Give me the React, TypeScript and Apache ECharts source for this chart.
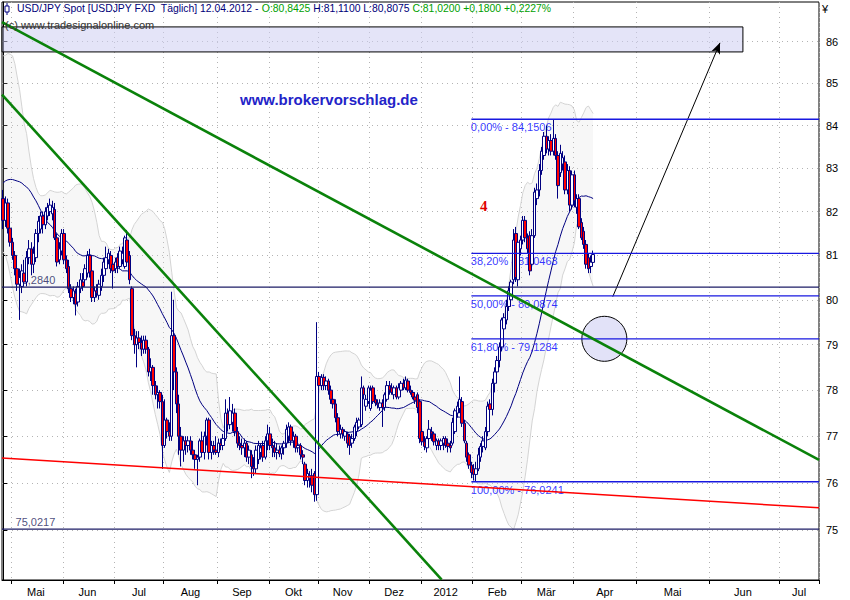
import { useEffect, useRef } from "react";
import * as echarts from "echarts";

const FONT = "'Liberation Sans', Arial, sans-serif";

// Daily candles, each row: [open, high, low, close]
const apr2011 = [
  [82.30, 82.50, 81.60, 81.80], [81.80, 82.35, 81.65, 82.20], [82.20, 82.30, 81.50, 81.62], [81.62, 81.70, 81.20, 81.30],
];
const may2011 = [
  [81.30, 81.40, 80.90, 81.00], [81.00, 81.10, 80.55, 80.70], [80.70, 80.80, 80.20, 80.35], [80.35, 80.70, 79.55, 80.50],
  [80.30, 80.80, 80.15, 80.65], [80.60, 80.90, 80.30, 80.40], [80.40, 81.10, 80.30, 80.95], [80.95, 81.35, 80.80, 81.15],
  [81.15, 81.30, 80.55, 80.80], [80.80, 81.20, 80.60, 81.05], [80.95, 81.60, 80.85, 81.50], [81.50, 81.90, 81.30, 81.78],
  [81.60, 82.00, 81.50, 81.90], [81.90, 82.00, 81.50, 81.70], [81.70, 82.10, 81.60, 82.00], [81.90, 82.20, 81.80, 82.10],
  [82.00, 82.30, 81.90, 82.15], [81.95, 82.25, 81.80, 82.10], [82.05, 82.20, 81.35, 81.40], [81.40, 81.50, 80.75, 80.85],
  [80.90, 81.30, 80.80, 81.15], [81.10, 81.60, 81.00, 81.50],
];
const jun2011 = [
  [81.50, 81.60, 80.80, 80.90], [80.90, 81.00, 80.60, 80.70], [80.75, 80.90, 80.15, 80.25], [80.25, 80.35, 79.95, 80.05],
  [80.05, 80.30, 79.90, 80.20], [80.15, 80.25, 79.65, 79.90], [79.95, 80.40, 79.85, 80.30], [80.25, 80.60, 80.15, 80.45],
  [80.40, 80.60, 80.20, 80.30], [80.45, 80.80, 80.35, 80.70], [80.60, 81.10, 80.50, 81.00], [81.00, 81.15, 80.50, 80.62],
  [80.65, 80.75, 79.95, 80.05], [80.05, 80.30, 79.95, 80.20], [80.20, 80.35, 80.05, 80.15], [80.10, 80.45, 80.00, 80.35],
  [80.30, 80.70, 80.20, 80.55], [80.55, 80.95, 80.40, 80.85], [80.70, 81.20, 80.60, 80.95], [80.90, 81.15, 80.80, 81.05],
  [81.00, 81.10, 80.60, 80.70], [80.80, 80.95, 80.25, 80.65],
];
const jul2011 = [
  [80.70, 80.95, 80.60, 80.85], [80.95, 81.05, 80.60, 80.75], [80.75, 81.20, 80.70, 81.10], [80.90, 81.20, 80.80, 81.05],
  [80.75, 81.45, 80.70, 81.40], [81.35, 81.58, 80.80, 80.85], [81.00, 81.10, 80.35, 80.45], [80.25, 80.30, 79.10, 79.20],
  [79.20, 79.35, 78.80, 79.00], [79.00, 79.30, 78.50, 79.15], [79.15, 79.30, 78.90, 79.05], [79.05, 79.20, 78.75, 78.90],
  [78.90, 79.20, 78.80, 79.10], [79.10, 79.20, 78.80, 78.90], [78.90, 78.95, 78.30, 78.40], [78.40, 78.70, 78.20, 78.50],
  [78.50, 78.55, 77.90, 78.10], [78.10, 78.20, 77.80, 77.90], [77.90, 78.10, 77.60, 77.95], [77.95, 78.00, 77.60, 77.75],
  [77.75, 77.90, 76.30, 76.80],
];
const aug2011 = [
  [76.80, 77.80, 76.75, 77.35], [77.35, 77.40, 76.95, 77.10], [77.10, 77.30, 76.90, 77.00], [77.00, 80.18, 76.90, 79.20],
  [79.20, 80.00, 78.00, 78.40], [78.40, 78.50, 77.50, 77.70], [77.70, 77.90, 76.60, 77.00], [77.00, 77.20, 76.35, 76.70],
  [76.70, 77.00, 76.45, 76.90], [76.90, 77.00, 76.60, 76.80], [76.80, 77.00, 76.65, 76.90], [76.90, 77.00, 76.60, 76.70],
  [76.70, 76.90, 76.50, 76.60], [76.60, 76.70, 76.30, 76.50], [76.50, 76.60, 75.95, 76.55], [76.55, 76.95, 76.45, 76.90],
  [76.90, 77.10, 76.60, 76.65], [76.65, 77.10, 76.50, 77.00], [77.00, 77.40, 76.80, 77.35], [77.35, 77.40, 76.50, 76.65],
  [76.65, 76.90, 76.50, 76.80], [76.80, 76.90, 76.60, 76.70], [76.70, 77.00, 76.60, 76.65],
];
const sep2011 = [
  [76.65, 76.95, 76.55, 76.85], [76.85, 76.95, 76.70, 76.80], [76.80, 77.05, 76.70, 76.95], [76.95, 77.80, 76.90, 77.50],
  [77.50, 77.60, 77.10, 77.25], [77.25, 77.85, 77.15, 77.55], [77.30, 77.70, 77.10, 77.50], [77.50, 77.60, 77.00, 77.10],
  [77.10, 77.20, 76.75, 76.85], [76.85, 77.00, 76.70, 76.80], [76.80, 76.95, 76.60, 76.75], [76.75, 76.95, 76.55, 76.85],
  [76.85, 76.90, 76.45, 76.55], [76.55, 76.80, 76.40, 76.70], [76.60, 76.70, 76.10, 76.35], [76.35, 76.55, 76.15, 76.30],
  [76.30, 76.80, 76.20, 76.70], [76.50, 76.90, 76.40, 76.80], [76.65, 76.85, 76.50, 76.75], [76.80, 76.90, 76.45, 76.55],
  [76.55, 77.00, 76.50, 76.90], [76.90, 77.25, 76.70, 77.05],
];
const oct2011 = [
  [77.05, 77.20, 76.70, 76.80], [76.80, 76.95, 76.55, 76.75], [76.75, 76.90, 76.55, 76.65], [76.65, 76.85, 76.50, 76.70],
  [76.70, 76.80, 76.55, 76.62], [76.62, 76.80, 76.50, 76.75], [76.75, 76.90, 76.60, 76.85], [76.85, 77.25, 76.75, 77.15],
  [77.00, 77.30, 76.85, 77.20], [77.20, 77.25, 76.80, 76.90], [76.90, 77.10, 76.75, 77.00], [77.00, 77.05, 76.65, 76.75],
  [76.75, 76.90, 76.65, 76.80], [76.80, 76.85, 76.50, 76.60], [76.60, 76.70, 76.40, 76.55], [76.40, 76.45, 75.95, 76.05],
  [76.05, 76.30, 75.90, 76.20], [76.10, 76.25, 75.90, 76.15], [76.15, 76.30, 75.80, 75.95], [76.20, 76.25, 75.60, 75.75],
  [75.75, 79.50, 75.62, 78.30],
];
const nov2011 = [
  [78.30, 78.40, 77.95, 78.10], [78.10, 78.35, 78.00, 78.28], [78.28, 78.35, 78.00, 78.10], [78.10, 78.30, 78.00, 78.20],
  [78.20, 78.25, 77.90, 78.00], [78.00, 78.10, 77.70, 77.80], [77.80, 77.90, 77.60, 77.70], [77.70, 77.80, 77.30, 77.40],
  [77.40, 77.50, 77.00, 77.10], [77.05, 77.25, 76.95, 77.15], [77.15, 77.20, 76.95, 77.05], [77.00, 77.15, 76.90, 77.10],
  [77.05, 77.10, 76.75, 76.85], [77.00, 77.05, 76.60, 76.80], [76.85, 77.05, 76.75, 76.95], [76.95, 77.25, 76.90, 77.20],
  [77.10, 77.40, 77.00, 77.30], [77.20, 77.40, 77.15, 77.35], [77.25, 78.30, 77.20, 78.05], [78.05, 78.10, 77.80, 77.90],
  [77.65, 77.90, 77.55, 77.80], [77.75, 78.10, 77.70, 78.05],
];
const dec2011 = [
  [77.60, 78.10, 77.55, 78.00], [78.05, 78.10, 77.70, 77.75], [77.80, 77.90, 77.65, 77.72], [77.72, 77.80, 77.60, 77.68],
  [77.62, 77.80, 77.55, 77.72], [77.72, 77.80, 77.20, 77.62], [77.62, 77.95, 77.55, 77.90], [77.80, 78.20, 77.75, 78.10],
  [78.10, 78.20, 77.90, 78.00], [78.05, 78.15, 77.90, 77.95], [77.90, 78.10, 77.80, 78.05], [78.05, 78.10, 77.80, 77.85],
  [77.85, 78.15, 77.80, 78.05], [78.00, 78.20, 77.95, 78.15], [78.15, 78.25, 78.00, 78.05], [78.05, 78.30, 78.00, 78.22],
  [78.20, 78.25, 77.95, 78.00], [78.00, 78.10, 77.90, 77.95], [77.95, 78.00, 77.80, 77.85], [77.85, 77.95, 77.70, 77.78],
  [77.90, 77.95, 77.50, 77.62], [77.75, 77.80, 76.85, 76.95],
];
const jan2012 = [
  [77.10, 77.20, 76.80, 76.88], [76.88, 77.00, 76.70, 76.78], [76.75, 77.00, 76.65, 76.95], [76.95, 77.35, 76.90, 77.15],
  [77.10, 77.20, 76.90, 77.05], [77.05, 77.10, 76.80, 76.88], [76.80, 76.95, 76.70, 76.90], [76.90, 76.95, 76.70, 76.80],
  [76.80, 76.95, 76.70, 76.90], [76.85, 77.00, 76.70, 76.95], [76.95, 77.00, 76.75, 76.80], [76.85, 76.95, 76.65, 76.78],
  [76.80, 76.90, 76.65, 76.75], [76.85, 77.40, 76.80, 77.30], [77.10, 77.60, 77.05, 77.55], [77.50, 77.75, 77.40, 77.65],
  [77.60, 78.30, 77.50, 77.80], [77.75, 77.85, 77.20, 77.28], [77.28, 77.35, 76.85, 76.90], [76.85, 76.90, 76.45, 76.55],
  [76.60, 76.65, 76.30, 76.38], [76.38, 76.45, 76.10, 76.22],
];
const feb2012 = [
  [76.30, 76.40, 76.05, 76.18], [76.18, 76.45, 76.02, 76.30], [76.30, 76.75, 76.25, 76.60], [76.55, 76.85, 76.45, 76.78],
  [76.78, 77.00, 76.65, 76.90], [76.75, 77.20, 76.70, 77.10], [77.10, 77.75, 77.00, 77.65], [77.70, 77.80, 77.45, 77.58],
  [77.58, 78.25, 77.45, 78.15], [78.15, 78.50, 77.95, 78.40], [78.40, 78.75, 78.30, 78.65], [78.65, 79.05, 78.50, 78.95],
  [78.95, 79.60, 78.85, 79.55], [79.35, 79.70, 79.20, 79.60], [79.55, 80.00, 79.45, 79.85], [79.85, 80.30, 79.75, 80.20],
  [80.00, 80.45, 79.85, 80.40], [80.45, 81.60, 80.35, 81.35], [81.50, 81.65, 80.40, 80.50], [80.45, 81.40, 80.30, 81.30],
  [81.15, 81.45, 81.00, 81.35],
];
const mar2012 = [
  [81.35, 81.90, 81.25, 81.80], [81.80, 81.90, 81.30, 81.40], [81.40, 81.50, 81.05, 81.15], [81.45, 81.55, 80.55, 80.65],
  [80.80, 81.60, 80.70, 81.45], [81.45, 82.55, 81.40, 82.45], [82.30, 82.65, 82.15, 82.50], [82.50, 83.10, 82.35, 82.95],
  [82.95, 83.50, 82.85, 83.40], [83.30, 83.85, 83.20, 83.75], [83.75, 84.00, 83.35, 83.45], [83.45, 83.75, 83.30, 83.65],
  [83.65, 83.80, 83.30, 83.40], [83.40, 84.15, 83.30, 83.70], [83.70, 83.80, 83.20, 83.30], [83.30, 83.40, 82.30, 82.60],
  [82.90, 83.55, 82.80, 83.35], [83.10, 83.40, 82.95, 83.25], [83.15, 83.30, 82.40, 82.50], [82.50, 83.10, 82.40, 82.95],
  [82.95, 83.05, 82.00, 82.15], [82.15, 82.95, 82.05, 82.85],
];
const apr2012 = [
  [82.85, 82.95, 82.10, 82.25], [82.10, 82.40, 81.95, 82.30], [82.30, 82.40, 81.60, 81.65], [81.75, 81.85, 81.35, 81.40],
  [81.55, 81.65, 81.15, 81.25], [81.25, 81.35, 80.70, 80.80], [80.95, 81.05, 80.60, 80.70], [80.75, 81.00, 80.60, 80.85],
  [80.8425, 81.11, 80.8075, 81.02],
];
// closes of the 29 sessions before the first candle (feed the moving average and the bands)
const warmupCloses = [80.7, 80.9, 81.0, 81.1, 81.2, 80.9, 81.0, 81.6, 81.9, 82.1, 82.9, 83.1, 84.0, 84.1, 84.9,
  85.3, 84.8, 84.9, 84.6, 83.5, 84.0, 83.6, 83.1, 82.7, 82.5, 82.2, 81.7, 81.9, 81.8];

const yTicks = [75, 76, 77, 78, 79, 80, 81, 82, 83, 84, 85, 86];
const monthNames = ["Jan", "Feb", "Mär", "Apr", "Mai", "Jun", "Jul", "Aug", "Sep", "Okt", "Nov", "Dez"];
const fibLevels = [84.1506, 81.0463, 80.0874, 79.1284, 76.0241];
const fibLabels = ["0,00% - 84,1506", "38,20% - 81,0463", "50,00% - 80,0874", "61,80% - 79,1284", "100,00% - 76,0241"];
const fibStart = 200;
const levelValues = [80.284, 75.0217];
const levelLabels = ["80,2840", "75,0217"];
const trendUpper = [[-0.5, 86.47], [348.5, 76.49]];
const trendSteep = [[-0.5, 84.73], [187.3, 73.97]];
const trendRed = [[-0.5, 76.53], [348.5, 75.47]];
const arrowLine = [[260.4, 80.07], [306.2, 85.97]];
const circlePoint = [256.8, 79.13];
const targetZone = [[-0.5, 86.355], [316, 85.752]];
const FUTURE_DAYS = 96;
const MA_PERIOD = 30;
const BB_PERIOD = 20;

const candles = [...apr2011, ...may2011, ...jun2011, ...jul2011, ...aug2011, ...sep2011, ...oct2011,
  ...nov2011, ...dec2011, ...jan2012, ...feb2012, ...mar2012, ...apr2012];

function iso(t: number) { return new Date(t).toISOString().slice(0, 10); }
const histDates: string[] = [];
for (let t = Date.UTC(2011, 3, 26); t <= Date.UTC(2012, 3, 12); t += 86400000) {
  const wd = new Date(t).getUTCDay();
  if (wd !== 0 && wd !== 6) histDates.push(iso(t));
}
const futureDates: string[] = [];
for (let i = 1; i <= FUTURE_DAYS; i++) futureDates.push(iso(Date.UTC(2012, 3, 12 + i)));
const categories = histDates.concat(futureDates);
const N = categories.length;

const monthStart = new Set<number>();
const monthLabelAt = new Map<number, string>();
{
  let g = 0;
  for (let i = 1; i <= N; i++) {
    if (i === N || categories[i].slice(0, 7) !== categories[g].slice(0, 7)) {
      if (g > 0) monthStart.add(g);
      if (i - g >= 8) {
        const m = +categories[g].slice(5, 7);
        monthLabelAt.set(Math.floor((g + i - 1) / 2), m === 1 ? categories[g].slice(0, 4) : monthNames[m - 1]);
      }
      g = i;
    }
  }
}

const closes = candles.map((c) => c[3]);
const allCloses = warmupCloses.concat(closes);
const W = warmupCloses.length;
const ma: (number | null)[] = [];
const bbLow: (number | null)[] = [];
const bbWidth: (number | null)[] = [];
for (let k = 0; k < closes.length; k++) {
  const e = W + k;
  const mw = allCloses.slice(e - MA_PERIOD + 1, e + 1);
  ma.push(+(mw.reduce((a, b) => a + b, 0) / mw.length).toFixed(4));
  const bw = allCloses.slice(e - BB_PERIOD + 1, e + 1);
  const mean = bw.reduce((a, b) => a + b, 0) / bw.length;
  const sd = Math.sqrt(bw.reduce((a, b) => a + (b - mean) * (b - mean), 0) / bw.length);
  bbLow.push(+(mean - 2 * sd).toFixed(4));
  bbWidth.push(+(4 * sd).toFixed(4));
}

const seg = (name: string, data: number[][], color: string, width: number, z = 6) => ({
  type: "line", name, xAxisIndex: 1, data, symbol: "none", silent: true, z,
  lineStyle: { color, width }, animation: false,
});

export default function App() {
  const ref = useRef<HTMLDivElement>(null);
  useEffect(() => {
    const chart = echarts.init(ref.current!, undefined, { renderer: "svg" });
    const option: any = {
      animation: false,
      backgroundColor: "#ffffff",
      textStyle: { fontFamily: FONT },
      grid: { left: 2, right: 31, top: 2, bottom: 20, show: true, borderColor: "#000", borderWidth: 1,
        backgroundColor: "#fff", containLabel: false, outerBoundsMode: "none" },
      xAxis: [
        {
          type: "category", data: categories, boundaryGap: true,
          axisLine: { show: true, lineStyle: { color: "#000", width: 1 } },
          axisTick: { show: true, interval: (i: number) => monthStart.has(i), length: 4, lineStyle: { color: "#000" } },
          axisLabel: { interval: (i: number) => monthLabelAt.has(i), formatter: (_v: string, i: number) => monthLabelAt.get(i) ?? "",
            color: "#000", fontSize: 11, margin: 6, fontFamily: FONT },
          splitLine: { show: true, interval: (i: number) => monthStart.has(i), lineStyle: { color: "#b4b4b4", type: [1, 4] } },
        },
        { type: "value", min: -0.5, max: N - 0.5, show: false },
      ],
      yAxis: {
        type: "log", logBase: 10, min: 73.96, max: 86.96, position: "right",
        axisLine: { show: true, lineStyle: { color: "#000" } },
        axisTick: { show: true, length: 4, customValues: yTicks, lineStyle: { color: "#000" } },
        axisLabel: { customValues: yTicks, color: "#000", fontSize: 11, margin: 7, fontFamily: FONT,
          formatter: (v: number) => String(Math.round(v)) },
        splitLine: { show: true, lineStyle: { color: "#b4b4b4", type: [1, 4] } },
      },
      series: [
        { type: "line", name: "BB unten", data: bbLow, stack: "bb", symbol: "none", silent: true, z: 1,
          lineStyle: { color: "#d4d4d4", width: 1 } },
        { type: "line", name: "BB oben", data: bbWidth, stack: "bb", symbol: "none", silent: true, z: 1,
          lineStyle: { color: "#d4d4d4", width: 1 }, areaStyle: { color: "#d8d8d8", opacity: 0.2 } },
        { type: "line", name: "MA", data: ma, symbol: "none", silent: true, z: 2,
          lineStyle: { color: "#000080", width: 1 } },
        { type: "scatter", name: "Levels", xAxisIndex: 1, z: 3, silent: true, symbolSize: 1,
          itemStyle: { color: "transparent" },
          data: levelValues.map((v) => [5.5, v]),
          label: { show: true, position: [0, -1], align: "left", verticalAlign: "bottom", color: "#1c1c5c",
            textBorderWidth: 0, fontSize: 11, fontFamily: FONT, formatter: (p: any) => levelLabels[p.dataIndex] } },
        { type: "scatter", name: "Fibo", xAxisIndex: 1, z: 3, silent: true, symbolSize: 1,
          itemStyle: { color: "transparent" },
          data: fibLevels.map((v) => [fibStart, v]),
          label: { show: true, position: [0, 3], align: "left", verticalAlign: "top", color: "#0000ff",
            textBorderWidth: 0, fontSize: 11, fontFamily: FONT, formatter: (p: any) => fibLabels[p.dataIndex] } },
        { type: "candlestick", name: "USD/JPY", z: 4, barWidth: 3, silent: true,
          data: candles.map(([o, h, l, c]) => [o, c, l, h]),
          itemStyle: { color: "#ffffff", color0: "#ff0000", borderColor: "#000080", borderColor0: "#000080",
            borderColorDoji: "#000080", borderWidth: 1 } },
        { type: "scatter", name: "Zone", xAxisIndex: 1, z: 5, silent: true, data: [circlePoint], symbolSize: 45,
          itemStyle: { color: "#e2e2f8", borderColor: "#000", borderWidth: 1, opacity: 1 } },
        ...levelValues.map((v, i) => seg("Level " + i, [[-0.5, v], [N - 0.5, v]], "#1c1c66", 1.3)),
        ...fibLevels.map((v, i) => seg("Fib " + i, [[fibStart, v], [N - 0.5, v]], "#1818e0", 1.3)),
        seg("Trend rot", trendRed, "#ff0000", 1.5),
        seg("Trend 1", trendUpper, "#0a820a", 2.6),
        seg("Trend 2", trendSteep, "#0a820a", 2.6),
        { type: "line", name: "Pfeil", xAxisIndex: 1, data: arrowLine, symbol: "none", silent: true, z: 6,
          lineStyle: { opacity: 0 },
          markLine: { silent: true, symbol: ["none", "arrow"], symbolSize: [7, 11], animation: false,
            lineStyle: { color: "#000", width: 1, type: "solid" }, label: { show: false },
            data: [[{ coord: arrowLine[0] }, { coord: arrowLine[1] }]] } },
        { type: "line", name: "Ziel", xAxisIndex: 1, data: targetZone, symbol: "none", silent: true, z: 7,
          lineStyle: { opacity: 0 },
          markArea: { silent: true, animation: false,
            itemStyle: { color: "rgba(206,206,242,0.55)", borderColor: "#000", borderWidth: 1 },
            data: [[{ coord: targetZone[0] }, { coord: targetZone[1] }]] } },
      ],
      graphic: [
        { type: "line", z: 100, shape: { x1: 7, y1: 3, x2: 7, y2: 15 }, style: { stroke: "#000080", lineWidth: 1 } },
        { type: "rect", z: 100, shape: { x: 5, y: 6, width: 4, height: 6 }, style: { fill: "#fff", stroke: "#000080", lineWidth: 1 } },
        { type: "text", z: 100, x: 17, y: 3, style: {
            text: "{n|USD/JPY Spot [USDJPY FXD  Täglich] 12.04.2012 - }{g|O:80,8425}{n| H:81,1100 L:80,8075 }{g|C:81,0200 +0,1800 +0,2227%}",
            rich: { n: { fill: "#00007a", fontSize: 10.4, fontFamily: FONT }, g: { fill: "#00a000", fontSize: 10.4, fontFamily: FONT } },
            fontSize: 10.4, fontFamily: FONT, verticalAlign: "top" } },
        { type: "text", z: 100, x: 5, y: 19, style: { text: "(c) www.tradesignalonline.com", fill: "#333", fontSize: 11,
            fontFamily: FONT, verticalAlign: "top" } },
        { type: "text", z: 100, x: 822, y: 3, style: { text: "¥", fill: "#000", fontSize: 11, fontFamily: FONT, verticalAlign: "top" } },
        { type: "text", z: 100, x: 240, y: 92, style: { text: "www.brokervorschlag.de", fill: "#2323c8", fontSize: 15,
            fontWeight: "bold", fontFamily: FONT, verticalAlign: "top" } },
        { type: "text", z: 100, x: 480, y: 198, style: { text: "4", fill: "#e00000", fontSize: 15, fontWeight: "bold",
            fontFamily: "'Liberation Serif', 'DejaVu Serif', serif", verticalAlign: "top" } },
      ],
    };
    chart.setOption(option);
    return () => chart.dispose();
  }, []);
  return <div ref={ref} style={{ position: "absolute", left: 0, top: 0, width: 850, height: 600 }} />;
}
